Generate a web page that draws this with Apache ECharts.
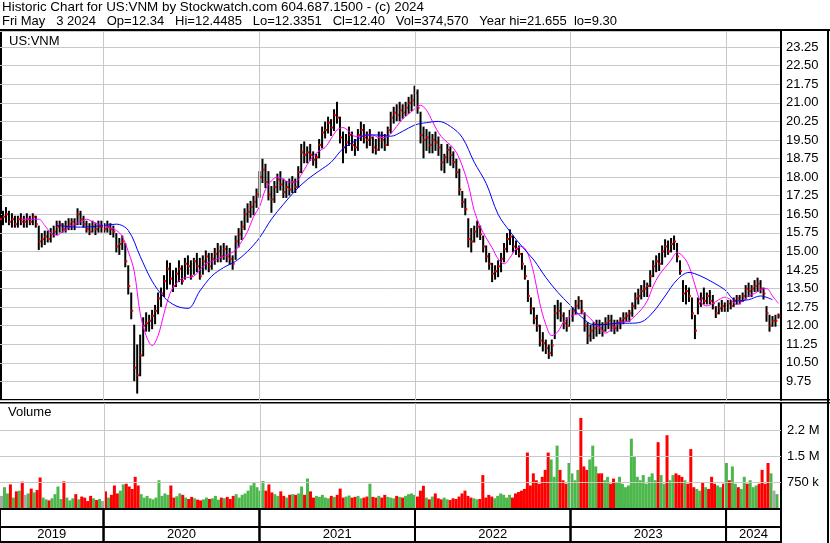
<!DOCTYPE html>
<html><head><meta charset="utf-8">
<script src="https://cdn.jsdelivr.net/npm/echarts@6/dist/echarts.min.js"></script>
<style>html,body{margin:0;padding:0;background:#fff}#c{width:830px;height:543px}</style>
</head><body><div id="c"></div>
<script>
// ---- data (weekly bars, first bar = Fri 2019-05-03) ----
const firstWeek = [2019, 4, 3];
const axisStart = [2019, 4, 3];
const axisEnd = [2024, 4, 9];

const highs = [16.5,16.6,16.75,16.6,16.5,16.4,16.4,16.5,16.4,16.5,16.4,16.5,16.4,
16.0,15.7,15.8,15.8,15.9,16.0,16.2,16.2,16.1,16.2,16.3,16.3,16.3,16.7,16.6,16.4,16.2,16.1,16.2,16.1,16.2,16.2,16.1,16.2,16.1,16.0,15.7,15.5,15.6,15.3,14.4,
13.3,12.0,11.2,11.6,12.3,12.5,12.4,12.6,12.8,13.3,13.5,14.0,14.6,14.5,14.2,14.3,14.6,14.4,14.7,14.8,14.6,14.7,14.9,14.7,
14.8,15.0,14.9,14.9,15.1,15.3,15.2,15.3,15.2,15.1,14.8,15.6,15.9,16.2,16.7,16.9,17.0,17.2,17.5,18.2,
18.7,18.5,18.2,17.6,17.8,18.1,18.2,17.9,17.8,17.9,18.0,17.9,18.4,19.3,19.4,19.2,19.3,19.0,18.9,19.5,
20.0,20.2,20.4,20.3,20.7,21.0,20.4,19.8,19.7,20.0,19.8,19.5,19.9,20.2,20.1,19.8,19.9,19.6,19.5,19.8,
19.8,19.7,20.0,20.6,20.8,20.9,21.0,20.9,21.0,21.2,21.3,21.65,21.5,20.6,20.0,19.9,19.8,19.7,19.8,19.6,
19.3,18.9,19.3,19.2,19.0,18.7,18.3,17.4,17.1,16.3,15.9,16.0,16.2,16.0,15.6,15.2,14.9,14.5,14.4,14.6,
14.9,15.3,15.7,15.85,15.6,15.4,15.2,14.9,14.4,13.8,13.1,12.7,12.4,12.0,11.7,11.4,11.2,11.4,12.8,13.0,
12.9,12.5,12.3,12.6,12.7,13.0,13.15,13.0,12.5,12.1,12.0,12.1,12.2,12.2,12.1,12.3,12.4,12.4,12.2,12.2,
12.3,12.5,12.5,12.6,12.9,13.3,13.45,13.6,13.8,13.7,14.2,14.6,14.8,14.9,15.2,15.45,15.4,15.5,15.6,15.3,
14.6,13.8,13.6,13.5,13.1,12.4,13.1,13.3,13.5,13.3,13.4,13.2,12.75,12.9,13.0,12.9,13.0,13.0,13.1,13.2,
13.2,13.3,13.6,13.7,13.6,13.8,13.9,13.8,13.5,12.75,12.4,12.35,12.4,12.45];

const lows = [16.1,16.1,16.2,16.1,16.0,16.0,16.0,16.1,16.0,16.0,16.1,16.1,16.0,
15.1,15.2,15.3,15.4,15.4,15.6,15.7,15.8,15.8,15.8,15.9,15.9,15.9,16.1,16.1,16.0,15.8,15.7,15.8,15.7,15.8,15.8,15.8,15.8,15.7,15.6,15.0,14.9,15.1,14.4,13.3,
12.3,9.8,9.3,10.0,10.8,11.8,11.8,11.9,12.1,12.5,12.8,13.2,13.5,13.7,13.4,13.6,13.8,13.7,13.9,14.1,13.9,14.1,14.2,13.9,
14.1,14.3,14.2,14.3,14.5,14.6,14.6,14.7,14.6,14.5,14.3,14.7,15.2,15.5,15.9,16.2,16.4,16.5,16.8,17.2,
17.8,17.6,17.1,16.6,17.0,17.4,17.5,17.2,17.2,17.3,17.4,17.4,17.6,18.2,18.6,18.6,18.7,18.5,18.4,18.8,
19.2,19.6,19.8,19.7,19.9,20.2,19.4,18.6,19.0,19.3,19.1,18.9,19.1,19.5,19.4,19.2,19.3,19.0,18.95,19.1,
19.2,19.1,19.3,19.8,20.2,20.3,20.3,20.4,20.5,20.6,20.7,20.9,20.6,19.4,18.8,19.1,19.0,19.0,19.1,18.9,
18.3,18.2,18.6,18.5,18.4,18.0,17.3,16.8,16.5,15.2,15.0,15.4,15.6,15.5,15.0,14.6,14.3,13.8,13.9,14.0,
14.2,14.6,15.0,15.3,15.0,14.9,14.8,14.3,13.9,13.0,12.5,12.1,11.8,11.2,11.0,10.9,10.7,10.8,11.5,12.3,
12.2,11.9,11.8,12.0,12.2,12.5,12.7,12.5,11.8,11.3,11.4,11.5,11.6,11.7,11.6,11.8,11.9,11.8,11.7,11.8,
11.9,12.1,12.2,12.2,12.4,12.7,12.9,13.1,13.2,13.2,13.6,14.0,14.2,14.25,14.5,14.8,14.9,15.0,15.1,14.6,
14.1,13.0,12.9,13.0,12.3,11.5,12.5,12.8,12.9,12.9,12.9,12.7,12.35,12.5,12.6,12.6,12.6,12.7,12.8,12.9,
12.9,13.0,13.1,13.2,13.2,13.4,13.4,13.35,13.1,12.2,11.8,12.0,12.0,12.33];

const closes = [16.3,16.4,16.5,16.2,16.3,16.1,16.3,16.2,16.2,16.3,16.2,16.4,16.1,
15.4,15.5,15.6,15.5,15.7,15.8,16.0,16.1,15.9,16.0,16.1,16.2,16.1,16.5,16.3,16.1,15.9,15.8,16.0,15.9,16.0,16.0,15.9,16.0,15.9,15.8,15.2,15.3,15.4,14.6,13.6,
12.6,10.3,10.0,10.8,12.0,12.1,12.2,12.4,12.6,13.1,13.3,13.8,14.3,13.9,13.6,14.1,14.3,13.8,14.5,14.4,14.0,14.6,14.4,14.0,
14.6,14.8,14.4,14.7,14.9,15.0,14.8,15.1,14.8,14.7,14.5,15.4,15.7,16.0,16.5,16.6,16.8,17.0,17.3,18.0,
18.3,17.8,17.3,17.1,17.6,17.9,17.7,17.4,17.6,17.5,17.8,17.6,18.2,19.0,18.9,19.0,18.9,18.7,18.8,19.3,
19.8,19.9,20.2,20.0,20.5,20.4,19.6,19.2,19.4,19.7,19.3,19.2,19.7,19.9,19.6,19.5,19.6,19.2,19.1,19.6,
19.5,19.3,19.9,20.4,20.6,20.5,20.7,20.6,20.8,21.0,21.1,21.4,20.8,19.7,19.5,19.6,19.3,19.5,19.4,19.2,
18.6,18.8,19.1,18.9,18.6,18.2,17.5,17.0,16.7,15.5,15.4,15.8,16.0,15.7,15.2,14.8,14.5,14.1,14.2,14.4,
14.7,15.1,15.5,15.6,15.2,15.1,14.9,14.5,14.0,13.2,12.7,12.3,12.0,11.4,11.3,11.1,10.9,11.2,12.5,12.6,
12.4,12.1,12.0,12.4,12.6,12.8,13.0,12.6,12.0,11.6,11.8,11.9,12.0,11.9,11.8,12.1,12.2,12.0,11.9,12.1,
12.2,12.3,12.4,12.5,12.8,13.1,13.2,13.4,13.5,13.6,14.0,14.4,14.6,14.5,15.0,15.2,15.0,15.3,15.4,14.8,
14.2,13.3,13.4,13.2,12.5,11.8,12.9,13.1,13.0,13.2,13.0,12.9,12.5,12.7,12.8,12.7,12.9,12.8,13.0,13.1,
13.0,13.2,13.5,13.4,13.5,13.6,13.7,13.5,13.3,12.5,12.0,12.2,12.2,12.40];

// representative daily volume for each week, in thousands of shares
const volumes = [350,600,420,680,300,480,500,760,380,420,560,450,520,880,
300,250,220,280,400,620,260,770,300,220,280,400,250,330,
300,200,350,280,230,260,200,
480,300,380,650,420,500,680,700,620,550,900,650,400,300,350,280,
250,300,800,350,420,380,650,300,340,420,380,300,260,320,280,240,
220,250,300,260,280,350,240,300,280,320,260,350,400,300,380,420,500,650,720,600,500,
780,500,680,450,400,350,480,350,300,380,400,380,420,620,380,850,480,
300,350,320,380,300,280,350,320,380,560,300,330,360,300,320,350,280,300,330,700,320,300,350,300,380,320,300,280,350,320,300,350,400,420,380,
330,500,640,300,250,330,420,280,250,300,250,230,280,
260,330,420,500,350,300,280,250,260,950,300,380,330,
280,350,420,380,300,380,300,420,460,500,550,1600,650,
1000,800,700,900,1100,1600,1400,900,1800,1100,800,700,
1300,1000,800,1100,2600,1200,1100,1400,1800,1200,1000,
1000,800,900,700,850,750,900,700,600,650,2000,
1500,900,800,950,700,900,1000,800,1900,950,700,
2100,800,950,1000,950,900,800,700,1700,600,550,500,750,600,550,900,700,650,600,700,
1300,800,1200,700,600,550,900,700,800,600,650,700,1100,700,1300,1000,500,400];

// short moving average (magenta), one value every 2 weeks starting at week 7
const fastMAStart = 7, fastMAStep = 2;
const fastMA = [16.3,16.3,16.3,16.3,16.05,15.75,15.65,15.8,15.95,16.1,
16.2,16.3,16.2,16.1,16.0,15.95,15.85,15.6,15.0,14.2,
12.5,11.6,11.2,11.6,12.5,13.3,13.7,13.9,13.95,14.0,
14.25,14.5,14.6,14.7,14.8,14.9,15.05,15.4,15.8,16.4,
16.8,17.5,17.85,18.0,17.9,17.8,17.8,18.1,18.5,18.85,
19.05,19.2,19.55,19.9,20.0,19.85,19.65,19.65,19.7,19.7,
19.6,19.6,19.75,20.05,20.35,20.55,20.75,20.9,20.7,20.25,
19.8,19.5,19.3,19.0,18.45,17.7,16.65,16.0,15.55,15.15,
14.7,14.5,14.75,15.1,15.2,14.9,14.1,12.9,12.05,11.6,
11.75,12.15,12.35,12.45,12.5,12.4,12.15,11.95,11.7,11.85,
12.05,12.15,12.2,12.4,12.65,13.0,13.6,14.05,14.35,14.65,
14.95,14.8,14.4,13.65,12.95,12.8,12.9,13.05,13.15,13.05,
12.85,13.0,13.2,13.3,13.45,13.5,13.2,12.9];

// long moving average (blue), one value every 4 weeks starting at week 19
const slowMAStart = 19, slowMAStep = 4;
const slowMA = [16.05,16.0,15.98,16.0,16.05,16.1,15.85,14.8,13.8,13.15,
12.8,12.7,13.4,14.0,14.35,14.6,15.0,15.55,16.3,16.9,
17.45,17.9,18.25,18.6,19.15,19.45,19.7,19.7,19.65,19.85,
20.1,20.2,20.25,20.05,19.6,18.6,17.75,16.5,15.8,15.2,
14.65,13.95,13.35,12.85,12.35,12.05,12.05,12.1,12.1,12.15,
12.55,13.2,13.85,14.15,14.0,13.75,13.45,13.0,13.05,13.2,
13.05];

const yearLabels = ['2019','2020','2021','2022','2023','2024'];
const priceAxis = {min: 9.0, max: 23.9, interval: 0.75};
const volTickValues = [750000, 1500000, 2250000];
const volTickLabels = ['750 k', '1.5 M', '2.2 M'];
const titleLine1 = 'Historic Chart for US:VNM by Stockwatch.com 604.687.1500 - (c) 2024';
const titleLine2 = 'Fri May   3 2024   Op=12.34   Hi=12.4485   Lo=12.3351   Cl=12.40   Vol=374,570   Year hi=21.655  lo=9.30';
const symbolLabel = 'US:VNM';
const volumeLabel = 'Volume';

// ---- build ----
const DAY = 86400000;
const t0 = Date.UTC(firstWeek[0], firstWeek[1], firstWeek[2]);
const weekTime = i => t0 + i * 7 * DAY;
const xMin = Date.UTC(axisStart[0], axisStart[1], axisStart[2]);
const xMax = Date.UTC(axisEnd[0], axisEnd[1], axisEnd[2]);

const ohlc = closes.map((c, i) => [weekTime(i), highs[i], lows[i], c]);
const volData = volumes.map((v, i) => {
  const prev = i > 0 ? closes[i - 1] : closes[i];
  const col = closes[i] > prev ? '#4cb84c' : (closes[i] < prev ? '#ff0000' : '#a8a8a8');
  return {value: [weekTime(i), v * 1000], itemStyle: {color: col}};
});
const fastData = fastMA.map((v, k) => [weekTime(fastMAStart + k * fastMAStep), v]);
const slowData = slowMA.map((v, k) => [weekTime(slowMAStart + k * slowMAStep), v]);

const yearStarts = yearLabels.map(y => Date.UTC(+y, 0, 1));
const yearLines = yearStarts.slice(1).map(t => ({xAxis: t}));
const bandsLower = yearLabels.map((y, k) => [
  {name: y, xAxis: Math.max(yearStarts[k], xMin), yAxis: 0},
  {xAxis: k + 1 < yearStarts.length ? yearStarts[k + 1] : xMax, yAxis: 15}
]);
const bandsUpper = yearLabels.map((y, k) => [
  {name: '', xAxis: Math.max(yearStarts[k], xMin), yAxis: 15},
  {xAxis: k + 1 < yearStarts.length ? yearStarts[k + 1] : xMax, yAxis: 33}
]);

const FONT = '"Liberation Sans", Arial, sans-serif';
const chart = echarts.init(document.getElementById('c'), null, {renderer: 'canvas'});

const hiddenX = idx => ({type: 'time', gridIndex: idx, min: xMin, max: xMax, show: false});

chart.setOption({
  animation: false,
  backgroundColor: '#fff',
  textStyle: {fontFamily: FONT},
  grid: [
    {left: 0, top: 31, width: 781, height: 369},
    {left: 0, top: 403, width: 781, height: 105},
    {left: 0, top: 509, width: 781, height: 33}
  ],
  xAxis: [hiddenX(0), hiddenX(1), hiddenX(2)],
  yAxis: [
    {type: 'value', gridIndex: 0, position: 'right', min: priceAxis.min, max: priceAxis.max, interval: priceAxis.interval,
     axisLine: {show: true, onZero: false, lineStyle: {color: '#000', width: 2}},
     axisTick: {show: false},
     axisLabel: {formatter: v => v.toFixed(2), showMinLabel: false, showMaxLabel: false, color: '#000', fontSize: 13, margin: 5, fontFamily: FONT},
     splitLine: {show: true, lineStyle: {color: '#c8c8c8', width: 1}}},
    {type: 'value', gridIndex: 1, position: 'right', min: 0, max: 3030000,
     axisLine: {show: true, onZero: false, lineStyle: {color: '#000', width: 2}},
     axisTick: {show: false}, axisLabel: {show: false}, splitLine: {show: false}},
    {type: 'value', gridIndex: 2, min: 0, max: 33, show: false}
  ],
  series: [
    {type: 'line', xAxisIndex: 0, yAxisIndex: 0, data: [], silent: true, z: 1,
     markLine: {silent: true, symbol: 'none', label: {show: false},
       lineStyle: {color: '#c8c8c8', width: 1, type: 'solid'}, data: yearLines}},
    {type: 'custom', xAxisIndex: 0, yAxisIndex: 0, data: ohlc, z: 2, silent: true,
     renderItem: (params, api) => {
       const t = api.value(0);
       const hi = api.coord([t, api.value(1)]);
       const lo = api.coord([t, api.value(2)]);
       const cl = api.coord([t, api.value(3)]);
       return {type: 'group', children: [
         {type: 'line', shape: {x1: hi[0], y1: hi[1] - 1, x2: lo[0], y2: lo[1] + 1}, style: {stroke: '#000', lineWidth: 2}},
         {type: 'line', shape: {x1: cl[0], y1: cl[1], x2: cl[0] + 2, y2: cl[1]}, style: {stroke: '#ff0000', lineWidth: 2}}
       ]};
     }},
    {type: 'line', xAxisIndex: 0, yAxisIndex: 0, data: fastData, showSymbol: false, smooth: 0.35, z: 3,
     lineStyle: {color: '#ff00ff', width: 1}, silent: true},
    {type: 'line', xAxisIndex: 0, yAxisIndex: 0, data: slowData, showSymbol: false, smooth: 0.35, z: 3,
     lineStyle: {color: '#0000ff', width: 1}, silent: true},
    {type: 'bar', xAxisIndex: 1, yAxisIndex: 1, data: volData, barWidth: 3, silent: true, z: 2,
     markLine: {silent: true, symbol: 'none',
       lineStyle: {color: '#c8c8c8', width: 1, type: 'solid'},
       label: {show: true, position: 'end', distance: 6, color: '#000', fontSize: 13, fontFamily: FONT, formatter: p => p.name},
       data: volTickValues.map((v, k) => ({yAxis: v, name: volTickLabels[k]})).concat(yearLines.map(d => ({xAxis: d.xAxis, label: {show: false}})))}},
    {type: 'line', xAxisIndex: 2, yAxisIndex: 2, data: [], silent: true,
     markArea: {silent: true,
       itemStyle: {color: 'rgba(0,0,0,0)', borderColor: '#000', borderWidth: 2},
       label: {show: true, position: 'inside', color: '#000', fontSize: 13, fontFamily: FONT},
       data: bandsLower.concat(bandsUpper)}}
  ],
  graphic: [
    {type: 'text', left: 2, top: 1, style: {text: titleLine1, font: '13.4px ' + FONT, fill: '#000'}},
    {type: 'text', left: 2, top: 15, style: {text: titleLine2, font: '13px ' + FONT, fill: '#000'}},
    {type: 'rect', shape: {x: 0, y: 29, width: 830, height: 2}, style: {fill: '#000'}},
    {type: 'rect', shape: {x: 0, y: 31, width: 2, height: 370}, style: {fill: '#000'}},
    {type: 'rect', shape: {x: 0, y: 399, width: 830, height: 1.5}, style: {fill: '#000'}},
    {type: 'rect', shape: {x: 0, y: 402, width: 830, height: 1.5}, style: {fill: '#000'}},
    {type: 'rect', shape: {x: 827, y: 29, width: 2, height: 514}, style: {fill: '#000'}},
    {type: 'text', left: 9, top: 35, z: 10, style: {text: symbolLabel, font: '13px ' + FONT, fill: '#000'}},
    {type: 'text', left: 8, top: 406, z: 10, style: {text: volumeLabel, font: '13px ' + FONT, fill: '#000'}}
  ]
});
</script></body></html>
